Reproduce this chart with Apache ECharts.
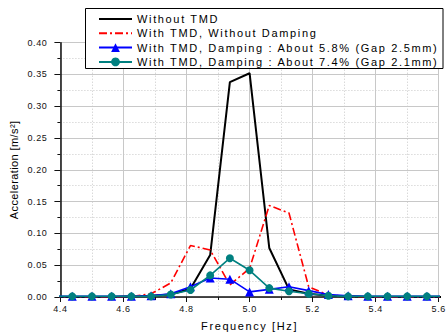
<!DOCTYPE html>
<html>
<head>
<meta charset="utf-8">
<script src="https://cdn.jsdelivr.net/npm/echarts@6/dist/echarts.min.js"></script>
<style>
  html, body { margin: 0; padding: 0; background: #fff; }
  #chart { width: 448px; height: 336px; }
  #chart text { letter-spacing: 1.6px; }
</style>
</head>
<body>
<div id="chart"></div>
<script>
// Excitation frequency [Hz], sampled every 1/16 Hz
const frequency = [4.375, 4.4375, 4.5, 4.5625, 4.625, 4.6875, 4.75, 4.8125, 4.875, 4.9375,
                   5.0, 5.0625, 5.125, 5.1875, 5.25, 5.3125, 5.375, 5.4375, 5.5, 5.5625, 5.625];

// Peak acceleration response [m/s^2]
const withoutTMD     = [0, 0, 0, 0, 0.001, 0.002, 0.004, 0.013, 0.066, 0.338,
                        0.352, 0.077, 0.012, 0.005, 0.002, 0.001, 0, 0, 0, 0, 0];
const withoutDamping = [0, 0, 0, 0, 0.001, 0.005, 0.022, 0.081, 0.074, 0.019,
                        0.045, 0.144, 0.132, 0.016, 0.003, 0.001, 0, 0, 0, 0, 0];
const damping58      = [0.001, 0.001, 0.001, 0.001, 0.001, 0.002, 0.005, 0.016, 0.030, 0.028,
                        0.008, 0.012, 0.016, 0.010, 0.004, 0.002, 0.001, 0.001, 0.001, 0.001, 0.001];
const damping74      = [0.001, 0.001, 0.001, 0.001, 0.001, 0.001, 0.004, 0.011, 0.034, 0.061,
                        0.042, 0.014, 0.009, 0.005, 0.002, 0.001, 0.001, 0.001, 0.001, 0.001, 0.001];

const seriesNames = [
  'Without TMD',
  'With TMD, Without Damping',
  'With TMD, Damping : About 5.8% (Gap 2.5mm)',
  'With TMD, Damping : About 7.4% (Gap 2.1mm)'
];

const FONT = 'Liberation Sans';
const pairs = (ys) => frequency.map((f, i) => [f, ys[i]]);

const chart = echarts.init(document.getElementById('chart'), null, { renderer: 'svg' });

const gridColor = '#c8c8c8';
const noMarker = { opacity: 0 };

chart.setOption({
  animation: false,
  backgroundColor: '#fff',
  textStyle: { fontFamily: FONT },
  grid: { left: 59.5, right: 7.3, top: 42.7, bottom: 39, containLabel: false },
  graphic: [{
    type: 'rect',
    z: 5,
    shape: { x: 85.5, y: 8.5, width: 357.5, height: 60 },
    style: { fill: '#fff', stroke: '#000', lineWidth: 1 }
  }],
  legend: {
    z: 10,
    orient: 'vertical',
    left: 98,
    top: 13.5,
    padding: 0,
    itemWidth: 33,
    itemHeight: 11,
    itemGap: 3.3,
    textStyle: { fontFamily: FONT, fontSize: 11, color: '#000', lineHeight: 11 },
    data: [
      { name: seriesNames[0], itemStyle: noMarker },
      { name: seriesNames[1], itemStyle: noMarker },
      { name: seriesNames[2] },
      { name: seriesNames[3] }
    ]
  },
  xAxis: {
    type: 'value',
    min: 4.4, max: 5.6, interval: 0.2,
    name: 'Frequency [Hz]',
    nameLocation: 'middle',
    nameGap: 23,
    nameTextStyle: { fontFamily: FONT, fontSize: 11, color: '#000' },
    axisLine: { onZero: false, lineStyle: { color: '#111', width: 1.5 } },
    axisTick: { show: true, length: 5, lineStyle: { color: '#111' } },
    minorTick: { show: true, splitNumber: 2, length: 3, lineStyle: { color: '#111' } },
    axisLabel: { fontFamily: FONT, fontSize: 9, color: '#111', margin: 7,
                 formatter: (v) => v.toFixed(1) },
    splitLine: { show: true, lineStyle: { color: gridColor, width: 1 } },
    minorSplitLine: { show: true, lineStyle: { color: gridColor, width: 1, type: [1, 2] } }
  },
  yAxis: {
    type: 'value',
    min: 0, max: 0.4, interval: 0.05,
    name: 'Acceleration [m/s²]',
    nameLocation: 'middle',
    nameGap: 31,
    nameTextStyle: { fontFamily: FONT, fontSize: 11, color: '#000' },
    axisLine: { show: true, lineStyle: { color: '#111', width: 1.5 } },
    axisTick: { show: true, length: 6, lineStyle: { color: '#111' } },
    minorTick: { show: true, splitNumber: 2, length: 3, lineStyle: { color: '#111' } },
    axisLabel: { fontFamily: FONT, fontSize: 9, color: '#111', margin: 13,
                 formatter: (v) => v.toFixed(2) },
    splitLine: { show: true, lineStyle: { color: gridColor, width: 1 } },
    minorSplitLine: { show: true, lineStyle: { color: gridColor, width: 1, type: [1, 2] } }
  },
  series: [
    {
      name: seriesNames[0], type: 'line', data: pairs(withoutTMD),
      symbol: 'none', clip: true,
      itemStyle: { color: '#000' },
      lineStyle: { color: '#000', width: 2 }
    },
    {
      name: seriesNames[1], type: 'line', data: pairs(withoutDamping),
      symbol: 'none', clip: true,
      itemStyle: { color: '#ff0000' },
      lineStyle: { color: '#ff0000', width: 1.6, type: [8, 3, 2, 3] }
    },
    {
      name: seriesNames[2], type: 'line', data: pairs(damping58),
      symbol: 'triangle', symbolSize: 9, clip: true,
      itemStyle: { color: '#0000ff' },
      lineStyle: { color: '#0000ff', width: 1.6 }
    },
    {
      name: seriesNames[3], type: 'line', data: pairs(damping74),
      symbol: 'circle', symbolSize: 8, clip: true,
      itemStyle: { color: '#008080' },
      lineStyle: { color: '#008080', width: 1.6 }
    }
  ]
});

// Origin-style tracking: wide for the legend, tighter for tick numbers and the vertical title
function applyTracking() {
  document.querySelectorAll('#chart text').forEach((t) => {
    const s = t.textContent.trim();
    if (/^\d\.\d+$/.test(s)) t.style.letterSpacing = '0.6px';
    else if (s.indexOf('Acceleration') === 0) t.style.letterSpacing = '0.4px';
    else if (seriesNames.indexOf(s) >= 0) t.style.letterSpacing = '1.65px';
  });
}
chart.on('finished', applyTracking);
applyTracking();
</script>
</body>
</html>
